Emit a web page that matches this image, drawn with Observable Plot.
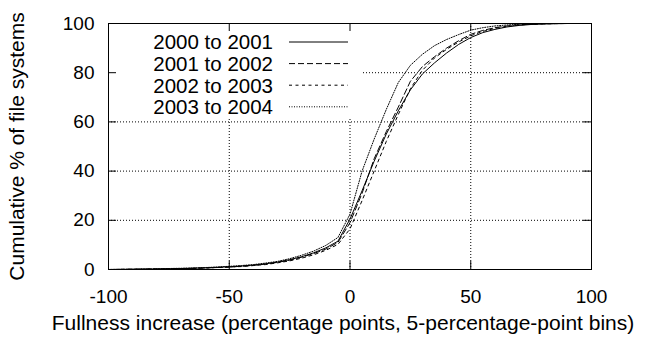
<!DOCTYPE html>
<html><head><meta charset="utf-8">
<script src="https://cdn.jsdelivr.net/npm/d3@7"></script>
<script src="https://cdn.jsdelivr.net/npm/@observablehq/plot@0.6"></script>
<style>
body{margin:0;background:#fff}
svg{font-family:"Liberation Sans",Arial,sans-serif}
</style>
</head><body><div id="chart"></div>
<script>
// Fullness increase bins (percentage points)
const xs = [-100,-95,-90,-85,-80,-75,-70,-65,-60,-55,-50,-45,-40,-35,-30,-25,-20,-15,-10,-5,0,5,10,15,20,25,30,35,40,45,50,55,60,65,70,75,80,85,90,95,100];
// Cumulative % of file systems, per year pair
const s2000to2001 = [0,0.05,0.1,0.15,0.2,0.3,0.4,0.5,0.7,0.9,1.1,1.4,1.8,2.3,3.0,4.0,5.2,6.8,8.8,11.5,20.5,32,44,55,64.5,73,79.5,84,88,91.5,94.3,96.3,97.6,98.6,99.2,99.6,99.8,99.9,100,100,100];
const s2001to2002 = [0,0.05,0.1,0.15,0.2,0.3,0.4,0.5,0.6,0.8,1.0,1.3,1.7,2.2,2.9,3.8,5.0,6.5,8.3,11.0,19,31,45,56,66,76.5,82.5,86.5,90,93,95.6,97.2,98.3,99,99.5,99.7,99.9,100,100,100,100];
const s2002to2003 = [0,0.05,0.1,0.15,0.2,0.25,0.35,0.45,0.6,0.8,1.0,1.2,1.6,2.0,2.7,3.5,4.6,6.0,7.8,10.2,16.5,28,40,52,63,73.5,81,86,89.5,92.5,95,96.8,98,98.8,99.4,99.7,99.85,99.95,100,100,100];
const s2003to2004 = [0,0.05,0.1,0.2,0.3,0.4,0.5,0.6,0.8,1.0,1.3,1.6,2.0,2.6,3.3,4.4,5.8,7.5,9.8,13.0,22.5,40,53,65,76,83,87.5,91,93.5,95.5,97.3,98.3,99,99.4,99.7,99.85,99.95,100,100,100,100];
const seriesNames = ["2000 to 2001","2001 to 2002","2002 to 2003","2003 to 2004"];
const xTicks = [-100,-50,0,50,100];
const yTicks = [0,20,40,60,80,100];
const xGrid = [-50,0,50];
const yGrid = [20,40,60,80];
const xLabel = "Fullness increase (percentage points, 5-percentage-point bins)";
const yLabel = "Cumulative % of file systems";

const seriesValues = [s2000to2001, s2001to2002, s2002to2003, s2003to2004];
const dashes = [null, "6,3", "3,3.5", "1,1.5"];

const ML=108, MR=56, MT=23, MB=68, W=647, H=337;
const innerW = W-ML-MR, innerH = H-MT-MB, tick = 8;
const fmt = d => String(d);

const plot = Plot.plot({
  width: W, height: H,
  marginLeft: ML, marginRight: MR, marginTop: MT, marginBottom: MB,
  style: {fontFamily: '"Liberation Sans", Arial, sans-serif', background: "white", color: "black", overflow: "visible"},
  x: {domain: [-100, 100]},
  y: {domain: [0, 100]},
  marks: [
    Plot.ruleY(yGrid, {stroke: "black", strokeDasharray: "1,2"}),
    Plot.ruleX(xGrid, {stroke: "black", strokeDasharray: "1,2"}),
    ...seriesValues.map((vals, i) => Plot.line(xs, {x: xs, y: vals, stroke: "black", strokeWidth: 1, strokeDasharray: dashes[i]})),
    Plot.frame({stroke: "black", strokeWidth: 1}),
    Plot.ruleX(xTicks, {insetTop: innerH - tick, stroke: "black"}),
    Plot.ruleX(xTicks, {insetBottom: innerH - tick, stroke: "black"}),
    Plot.ruleY(yTicks, {insetRight: innerW - tick, stroke: "black"}),
    Plot.ruleY(yTicks, {insetLeft: innerW - tick, stroke: "black"}),
    Plot.axisX(xTicks, {tickSize: 0, tickPadding: 20, fontSize: 19, label: null, tickFormat: fmt}),
    Plot.axisY(yTicks, {tickSize: 0, tickPadding: 14, fontSize: 19, label: null, tickFormat: fmt}),
    Plot.text([xLabel], {frameAnchor: "bottom", dy: 54, dx: -7, fontSize: 21, lineAnchor: "middle"}),
    Plot.text([yLabel], {frameAnchor: "left", dx: -91, rotate: -90, fontSize: 21, textAnchor: "middle", lineAnchor: "middle"})
  ]
});
document.getElementById("chart").appendChild(plot);

// Legend (inside the plot, with an opaque background hiding the grid)
const svg = d3.select(plot);
const firstLine = plot.querySelector('g[aria-label="line"]');
const bg = document.createElementNS("http://www.w3.org/2000/svg", "rect");
bg.setAttribute("x", ML + 1); bg.setAttribute("y", MT + 1);
bg.setAttribute("width", 253); bg.setAttribute("height", 94);
bg.setAttribute("fill", "white");
plot.insertBefore(bg, firstLine);

const lg = svg.append("g");
seriesNames.forEach((name, i) => {
  const cy = 42 + i * 21.6;
  lg.append("text").attr("x", 273).attr("y", cy + 7.3)
    .attr("text-anchor", "end").attr("font-size", 20.5).attr("fill", "black").text(name);
  const ln = lg.append("line").attr("x1", 289).attr("x2", 348).attr("y1", cy).attr("y2", cy)
    .attr("stroke", "black").attr("stroke-width", 1);
  if (dashes[i]) ln.attr("stroke-dasharray", dashes[i]);
});
</script>
</body></html>
